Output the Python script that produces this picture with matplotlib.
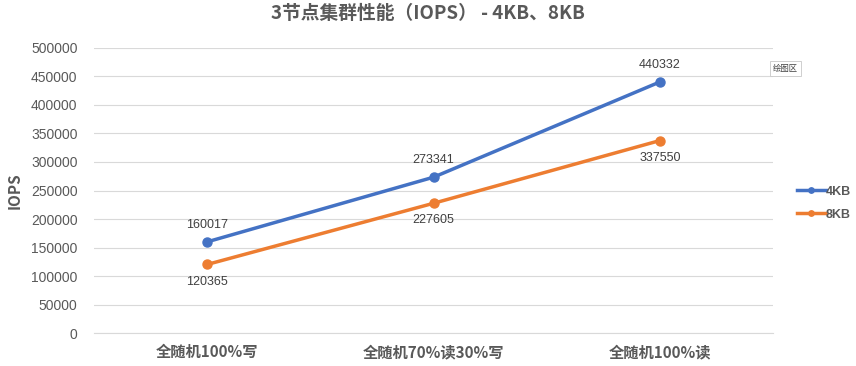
import matplotlib
matplotlib.use("Agg")
import matplotlib.pyplot as plt

plt.rcParams['font.family'] = ['Noto Sans CJK SC', 'DejaVu Sans']

categories = ['全随机100%写', '全随机70%读30%写', '全随机100%读']
iops_4kb = [160017, 273341, 440332]
iops_8kb = [120365, 227605, 337550]
y_ticks = list(range(0, 500001, 50000))

blue = '#4472C4'
orange = '#ED7D31'
text_color = '#595959'
num_font = ['Liberation Sans', 'DejaVu Sans']

fig = plt.figure(figsize=(8.56, 3.66), dpi=100)
ax = fig.add_axes([0.110, 0.090, 0.793, 0.779])

x = list(range(len(categories)))
ax.plot(x, iops_4kb, color=blue, linewidth=2.5, marker='o', markersize=6.5, label='4KB', zorder=3)
ax.plot(x, iops_8kb, color=orange, linewidth=2.5, marker='o', markersize=6.5, label='8KB', zorder=3)

# data labels: 4KB above, 8KB below
for xi, v in zip(x, iops_4kb):
    ax.annotate(str(v), (xi, v), xytext=(0, 8), textcoords='offset points',
                ha='center', va='bottom', fontsize=9, color='#404040', family=num_font)
for xi, v in zip(x, iops_8kb):
    ax.annotate(str(v), (xi, v), xytext=(0, -8), textcoords='offset points',
                ha='center', va='top', fontsize=9, color='#404040', family=num_font)

ax.set_xlim(-0.5, len(categories) - 0.5)
ax.set_ylim(0, 500000)
ax.set_yticks(y_ticks)
ax.set_yticklabels([str(t) for t in y_ticks], fontsize=10, color=text_color, family=num_font)
ax.set_xticks(x)
ax.set_xticklabels(categories, fontsize=11, fontweight='bold', color=text_color)
ax.tick_params(axis='both', length=0)
ax.tick_params(axis='y', pad=12)
ax.tick_params(axis='x', pad=8)

ax.grid(axis='y', color='#d9d9d9', linewidth=0.8)
ax.set_axisbelow(True)
for s in ['top', 'right', 'left']:
    ax.spines[s].set_visible(False)
ax.spines['bottom'].set_color('#d9d9d9')

ax.set_ylabel('IOPS', fontsize=11, fontweight='bold', color=text_color, labelpad=6)
fig.suptitle('3节点集群性能（IOPS） - 4KB、8KB', fontsize=13.5, fontweight='bold',
             color=text_color, y=0.99)

fig.legend(loc='center left', bbox_to_anchor=(0.918, 0.445), frameon=False,
           handlelength=2.3, labelspacing=0.9, handletextpad=0.0,
           markerscale=0.6, labelcolor=text_color,
           prop={'family': num_font, 'weight': 'bold', 'size': 9})

fig.text(0.918, 0.813, '绘图区', fontsize=6, color='#404040', ha='center', va='center',
         bbox=dict(boxstyle='square,pad=0.35', facecolor='white', edgecolor='#c8c8c8', linewidth=0.6))

fig.savefig('out.png', dpi=100)
